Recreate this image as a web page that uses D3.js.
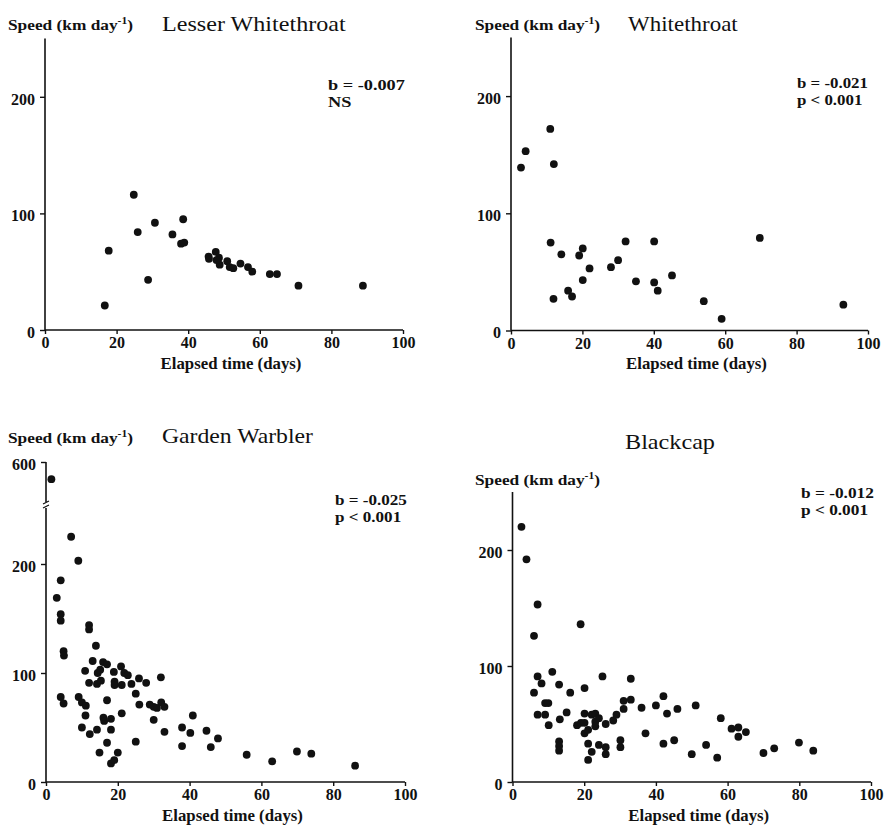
<!DOCTYPE html>
<html>
<head>
<meta charset="utf-8">
<script src="https://cdn.jsdelivr.net/npm/d3@7"></script>
<style>
  body { margin: 0; background: #fff; }
  svg { display: block; }
  text { font-family: "Liberation Serif", "Times New Roman", serif; fill: #111; }
</style>
</head>
<body>
<div id="chart"></div>
<script>
const xTicks = [0, 20, 40, 60, 80, 100]

// Lesser Whitethroat
const lwDays = [16.7, 17.8, 24.8, 25.9, 28.8, 30.7, 35.6, 38.6, 38, 38.9, 45.7, 45.8, 47.7, 48.6, 48.8, 47.9, 50.9, 51.6, 52.6, 54.6, 56.7, 57.9, 62.8, 64.8, 70.8, 88.8]
const lwSpeed = [21, 68, 116, 84, 43, 92, 82, 95, 74, 75, 63, 61, 67, 62, 56, 60, 59, 54, 53, 57, 54, 50, 48, 48, 38, 38]

// Whitethroat
const wtDays = [2.8, 4.1, 11, 12, 11.1, 11.9, 14.1, 16, 17.1, 19.1, 20.1, 20.1, 22, 28, 30, 32.1, 35, 40.1, 40.1, 41.1, 45.1, 54, 59, 69.7, 93.1]
const wtSpeed = [139, 153, 172, 142, 75, 27, 65, 34, 29, 64, 70, 43, 53, 54, 60, 76, 42, 76, 41, 34, 47, 25, 10, 79, 22]

// Garden Warbler
const gwDays = [1.5, 7, 9, 4.1, 3, 4.1, 4.1, 4.9, 5, 4.1, 4.9, 9.1, 10, 11.1, 11, 10, 12.2, 10.9, 12, 12, 12, 13.9, 13, 14.2, 14.2, 14.9, 14.4, 15.3, 15.9, 15.1, 16, 16.2, 17, 17, 17, 18.1, 18.1, 18.1, 19, 20, 18.9, 19.1, 19.1, 20.9, 21.1, 21.1, 21.8, 22.8, 23.8, 25, 25, 25.9, 26, 27.9, 28.9, 30, 30.9, 30, 32, 32.1, 33, 33, 37.9, 37.9, 40.2, 40.9, 44.7, 45.9, 47.9, 55.9, 63, 69.9, 73.9, 86.1]
const gwSpeed = [584, 225, 203, 185, 169, 154, 148, 120, 116, 78, 72, 78, 73, 70, 61, 50, 44, 102, 144, 140, 91, 125, 111, 48, 90, 27, 100, 93, 110, 103, 59, 56, 108, 75, 36, 58, 48, 17, 20, 27, 101, 92, 89, 106, 89, 63, 100, 98, 90, 81, 37, 95, 71, 91, 71, 69, 68, 57, 96, 73, 69, 46, 50, 33, 45, 61, 47, 32, 40, 25, 19, 28, 26, 15]

// Blackcap
const bcDays = [2.5, 3.9, 7, 6, 19, 6, 7, 8.1, 7, 9.1, 10, 9.1, 10.1, 11.1, 13, 13.2, 13, 13, 13, 15.1, 16.1, 18, 19.1, 20.1, 20.1, 20.1, 20.1, 21.1, 21.1, 21.1, 22.1, 22.1, 23.1, 23.1, 23.1, 24.1, 24.1, 25.1, 26, 26, 26, 28.1, 29, 30.1, 30.1, 31, 31, 33, 33, 36, 37.1, 40, 42.1, 42.1, 43.1, 45.1, 46, 50, 51.1, 54, 57.1, 58.1, 61.1, 63, 63, 65.1, 70, 73, 79.9, 83.9]
const bcSpeed = [220, 192, 153, 126, 136, 77, 91, 85, 58, 68, 68, 58, 49, 95, 84, 54, 35, 31, 27, 60, 77, 49, 51, 51, 81, 59, 42, 45, 33, 19, 26, 58, 59, 52, 48, 55, 32, 91, 50, 30, 24, 53, 58, 36, 30, 63, 70, 89, 71, 64, 42, 66, 74, 33, 59, 36, 63, 24, 66, 32, 21, 55, 46, 47, 39, 43, 25, 29, 34, 27]

const panels = [
  { title: 'Lesser Whitethroat', days: lwDays, speed: lwSpeed, b: 'b = -0.007', p: 'NS',
    x0: 45, x1: 403, yDom: [0, 250], yRange: [330, 38.5], yTicks: [0, 100, 200],
    label: [8, 29.5], titlePos: [162, 30.5, 184], stat: [328, 90, 77], xlab: 369 },
  { title: 'Whitethroat', days: wtDays, speed: wtSpeed, b: 'b = -0.021', p: 'p < 0.001',
    x0: 511, x1: 868, yDom: [0, 250], yRange: [330.5, 37.5], yTicks: [0, 100, 200],
    label: [475, 29.5], titlePos: [628, 30.5, 110], stat: [797, 88, 71], xlab: 369 },
  { title: 'Garden Warbler', days: gwDays, speed: gwSpeed, b: 'b = -0.025', p: 'p < 0.001',
    x0: 46, x1: 405, yDom: [0, 250, 560, 600], yRange: [782, 509.5, 505, 462], yTicks: [0, 100, 200, 600],
    label: [8, 443], titlePos: [162, 443, 151], stat: [335, 505, 72], xlab: 821, brk: 506 },
  { title: 'Blackcap', days: bcDays, speed: bcSpeed, b: 'b = -0.012', p: 'p < 0.001',
    x0: 512.5, x1: 871, yDom: [0, 250], yRange: [782, 492], yTicks: [0, 100, 200],
    label: [475, 485], titlePos: [625, 449, 90], stat: [801, 498, 73], xlab: 821 }
]

const svg = d3.select('#chart').append('svg')
  .attr('width', 888)
  .attr('height', 827)

// squeeze/stretch a text horizontally so it covers the given width
function fit (t, x, y, width) {
  const w = t.node().getBBox().width
  t.attr('transform', `translate(${x},${y}) scale(${width / w},1)`)
  return t
}

panels.forEach(p => {
  const x = d3.scaleLinear().domain([0, 100]).range([p.x0, p.x1])
  const y = d3.scaleLinear().domain(p.yDom).range(p.yRange)
  const g = svg.append('g')

  const yAxis = g.append('g')
    .attr('transform', `translate(${p.x0},0)`)
    .call(d3.axisLeft(y).tickValues(p.yTicks).tickSize(5).tickPadding(5).tickFormat(d3.format('d')))
  const xAxis = g.append('g')
    .attr('transform', `translate(0,${p.yRange[0]})`)
    .call(d3.axisBottom(x).tickValues(xTicks).tickSize(4).tickPadding(3))

  for (const a of [xAxis, yAxis]) {
    a.select('.domain').attr('stroke', '#111').attr('stroke-width', 1.6)
    a.selectAll('.tick line').attr('stroke', '#111').attr('stroke-width', 1.4)
    a.selectAll('.tick text')
      .style('font-family', '"Liberation Serif", serif')
      .style('font-size', '16px')
      .style('font-weight', 'bold')
      .attr('fill', '#111')
  }
  xAxis.select('.domain').attr('d', `M${p.x0},0H${p.x1}`)
  yAxis.select('.domain').attr('d', `M0,${p.yRange[0]}V${p.yRange[p.yRange.length - 1]}`)
  yAxis.selectAll('.tick text').attr('dy', '0.45em')

  if (p.brk) {
    yAxis.append('rect').attr('x', -4).attr('y', p.brk - 4).attr('width', 8).attr('height', 6).attr('fill', '#fff')
    yAxis.append('path')
      .attr('d', `M-3,${p.brk - 2}l6,-3M-3,${p.brk + 2}l6,-3`)
      .attr('stroke', '#111').attr('stroke-width', 1.2).attr('fill', 'none')
  }

  g.selectAll('circle')
    .data(p.days.map((d, i) => [d, p.speed[i]]))
    .join('circle')
    .attr('cx', d => x(d[0]))
    .attr('cy', d => y(d[1]))
    .attr('r', 3.9)
    .attr('fill', '#111')

  const lab = g.append('text')
    .style('font-size', '15px').style('font-weight', 'bold')
  lab.append('tspan').text('Speed (km day')
  lab.append('tspan').attr('dy', -6).style('font-size', '10px').text('-1')
  lab.append('tspan').attr('dy', 6).text(')')
  fit(lab, p.label[0], p.label[1], 125)

  fit(g.append('text').style('font-size', '21px').text(p.title),
    p.titlePos[0], p.titlePos[1], p.titlePos[2])

  const b = g.append('text')
    .style('font-size', '14px').style('font-weight', 'bold')
    .text(p.b)
  fit(b, p.stat[0], p.stat[1], p.stat[2])
  const k = p.stat[2] / b.node().getBBox().width
  g.append('text')
    .attr('transform', `translate(${p.stat[0]},${p.stat[1] + 16.5}) scale(${k},1)`)
    .style('font-size', '14px').style('font-weight', 'bold')
    .text(p.p)

  fit(g.append('text')
    .attr('text-anchor', 'middle')
    .style('font-size', '16px').style('font-weight', 'bold')
    .text('Elapsed time (days)'), (p.x0 + p.x1) / 2 + 7, p.xlab, 141)
})
</script>
</body>
</html>
